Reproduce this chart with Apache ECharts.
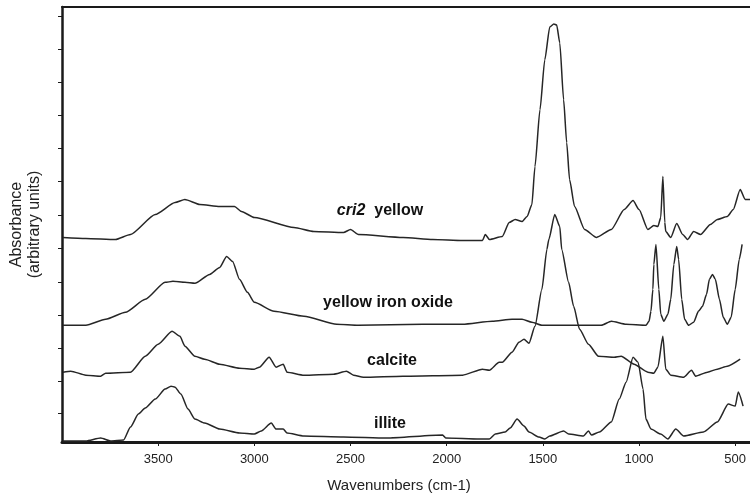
<!DOCTYPE html>
<html>
<head>
<meta charset="utf-8">
<script src="https://cdn.jsdelivr.net/npm/echarts@6/dist/echarts.min.js"></script>
<style>
    html, body { margin: 0; padding: 0; background: #fff; }
    #main { width: 750px; height: 498px; }
</style>
</head>
<body>
<div id="main"></div>
<script>
// tick positions (wavenumber axis runs 4000 -> ~420, reversed)
var xTicks = [500, 1000, 1500, 2000, 2500, 3000, 3500];
// absorbance ticks, unlabeled
var yTicks = [0.29, 0.61, 0.94, 1.27, 1.60, 1.94, 2.27, 2.61, 2.94, 3.28, 3.61, 3.94, 4.27];

// [wavenumber, absorbance], offset per trace
var cri2Yellow = [[3995,2.05],[3876,2.04],[3722,2.03],[3644,2.08],[3515,2.28],[3412,2.40],[3361,2.43],[3283,2.38],[3180,2.36],[3103,2.36],[3067,2.31],[3000,2.25],[2794,2.15],[2691,2.11],[2536,2.10],[2500,2.13],[2459,2.08],[2227,2.05],[2072,2.03],[1917,2.02],[1814,2.02],[1799,2.08],[1778,2.03],[1711,2.06],[1675,2.20],[1644,2.23],[1608,2.21],[1582,2.26],[1557,2.38],[1541,2.76],[1515,3.33],[1490,3.83],[1464,4.16],[1443,4.19],[1428,4.18],[1412,4.00],[1392,3.43],[1376,3.00],[1361,2.63],[1335,2.36],[1283,2.13],[1221,2.05],[1144,2.13],[1077,2.33],[1031,2.42],[1000,2.33],[954,2.13],[923,2.17],[902,2.16],[887,2.25],[876,2.66],[866,2.20],[861,2.11],[835,2.05],[804,2.19],[773,2.08],[747,2.03],[716,2.11],[680,2.08],[629,2.18],[593,2.23],[541,2.26],[510,2.33],[474,2.53],[448,2.43],[422,2.43]];

var yellowIronOxide = [[3995,1.17],[3876,1.17],[3773,1.23],[3670,1.30],[3567,1.43],[3464,1.60],[3423,1.61],[3361,1.60],[3309,1.59],[3232,1.68],[3180,1.75],[3144,1.86],[3113,1.81],[3077,1.63],[3036,1.50],[3000,1.40],[2897,1.31],[2742,1.26],[2572,1.18],[2459,1.17],[2124,1.18],[1917,1.18],[1763,1.21],[1660,1.23],[1608,1.23],[1557,1.20],[1505,1.17],[1196,1.17],[1144,1.21],[1067,1.18],[964,1.17],[948,1.21],[938,1.31],[928,1.53],[923,1.78],[912,1.98],[897,1.53],[887,1.28],[871,1.21],[850,1.28],[835,1.43],[819,1.78],[804,1.96],[794,1.83],[778,1.43],[763,1.23],[742,1.17],[716,1.20],[691,1.31],[670,1.36],[649,1.48],[634,1.63],[618,1.68],[603,1.63],[582,1.43],[562,1.25],[541,1.18],[521,1.25],[500,1.53],[479,1.83],[464,1.98]];

var calcite = [[3995,0.70],[3954,0.71],[3876,0.67],[3799,0.66],[3773,0.69],[3644,0.70],[3567,0.86],[3500,0.98],[3428,1.11],[3387,1.06],[3361,0.96],[3309,0.86],[3258,0.83],[3180,0.78],[3077,0.74],[3000,0.73],[2974,0.75],[2923,0.85],[2887,0.75],[2850,0.78],[2830,0.70],[2742,0.67],[2588,0.68],[2521,0.71],[2484,0.67],[2433,0.65],[2227,0.66],[1917,0.67],[1814,0.73],[1778,0.72],[1727,0.80],[1711,0.80],[1660,0.90],[1624,1.00],[1598,1.03],[1572,0.99],[1541,1.16],[1505,1.53],[1479,1.93],[1469,2.03],[1438,2.28],[1412,2.16],[1402,1.93],[1366,1.60],[1340,1.36],[1309,1.13],[1263,0.98],[1211,0.86],[1129,0.85],[1093,0.86],[1026,0.78],[954,0.70],[923,0.69],[902,0.75],[876,1.06],[861,0.73],[835,0.67],[768,0.65],[727,0.72],[706,0.66],[644,0.70],[593,0.73],[541,0.76],[474,0.83]];

var illite = [[3995,0.01],[3876,0.01],[3799,0.04],[3747,0.01],[3680,0.02],[3644,0.15],[3603,0.28],[3567,0.34],[3515,0.43],[3464,0.53],[3433,0.56],[3412,0.55],[3382,0.48],[3345,0.33],[3309,0.23],[3258,0.19],[3180,0.13],[3077,0.09],[3000,0.08],[2964,0.11],[2912,0.19],[2887,0.13],[2850,0.13],[2830,0.09],[2742,0.06],[2536,0.05],[2314,0.04],[2021,0.07],[2005,0.04],[1830,0.03],[1778,0.03],[1747,0.08],[1696,0.10],[1670,0.14],[1634,0.23],[1598,0.16],[1572,0.10],[1520,0.05],[1490,0.03],[1464,0.06],[1392,0.11],[1366,0.08],[1289,0.06],[1263,0.11],[1247,0.07],[1206,0.10],[1144,0.20],[1103,0.43],[1067,0.60],[1031,0.85],[1005,0.80],[979,0.53],[964,0.23],[938,0.13],[887,0.08],[850,0.03],[809,0.13],[768,0.06],[665,0.10],[593,0.20],[536,0.38],[500,0.36],[484,0.50],[459,0.36]];

var fontFamily = "'Liberation Sans', Arial, sans-serif";
var ink = '#262626';

var myChart = echarts.init(document.getElementById('main'), null, { renderer: 'canvas' });

function trace(name, data) {
    return {
        name: name,
        type: 'line',
        data: data,
        showSymbol: false,
        symbol: 'none',
        smooth: 0.2,
        smoothMonotone: 'x',
        animation: false,
        lineStyle: { color: ink, width: 1.5 }
    };
}

//曲线上的名称
function tag(text, x, y) {
    return {
        type: 'text',
        x: x,
        y: y,
        style: {
            text: text,
            fill: '#111',
            font: 'bold 16px ' + fontFamily,
            textAlign: 'center',
            textVerticalAlign: 'middle',
            rich: {
                it: { fontStyle: 'italic', fontWeight: 'bold', fontSize: 16, fontFamily: fontFamily, fill: '#111' }
            }
        }
    };
}

var option = {
    backgroundColor: '#fff',
    animation: false,
    grid: { left: 57, right: 0, top: 7, bottom: 55, show: false },
    xAxis: [{
        type: 'value',
        min: 423,
        max: 4000,
        inverse: true,
        name: 'Wavenumbers (cm-1)',
        nameLocation: 'middle',
        nameGap: 36,
        nameTextStyle: { fontFamily: fontFamily, fontSize: 15, color: '#222', padding: [0, 14, 0, 0] },
        axisLine: { lineStyle: { color: '#1a1a1a', width: 3 } },
        axisTick: { customValues: xTicks, length: 4, lineStyle: { color: '#1a1a1a', width: 1 } },
        axisLabel: {
            customValues: xTicks,
            margin: 11,
            fontFamily: fontFamily,
            fontSize: 13,
            color: '#222',
            formatter: function(v) { return String(v); }
        },
        splitLine: { show: false }
    }, {
        type: 'value',
        position: 'top',
        min: 423,
        max: 4000,
        inverse: true,
        axisLine: { lineStyle: { color: '#1a1a1a', width: 2 } },
        axisTick: { show: false },
        axisLabel: { show: false },
        splitLine: { show: false }
    }],
    yAxis: {
        type: 'value',
        min: 0,
        max: 4.36,
        name: 'Absorbance\n(arbitrary units)',
        nameLocation: 'middle',
        nameRotate: 90,
        nameGap: 18,
        nameTextStyle: { fontFamily: fontFamily, fontSize: 16, lineHeight: 18, color: '#222', align: 'center' },
        axisLine: { show: true, lineStyle: { color: '#1a1a1a', width: 2.5 } },
        axisTick: { show: true, customValues: yTicks, length: 4, lineStyle: { color: '#1a1a1a', width: 1 } },
        axisLabel: { show: false },
        splitLine: { show: false }
    },
    series: [
        trace('cri2 yellow', cri2Yellow),
        trace('yellow iron oxide', yellowIronOxide),
        trace('calcite', calcite),
        trace('illite', illite)
    ],
    graphic: [
        tag('{it|cri2}  yellow', 380, 211),
        tag('yellow iron oxide', 388, 303),
        tag('calcite', 392, 361),
        tag('illite', 390, 424)
    ]
};

myChart.setOption(option);
</script>
</body>
</html>
